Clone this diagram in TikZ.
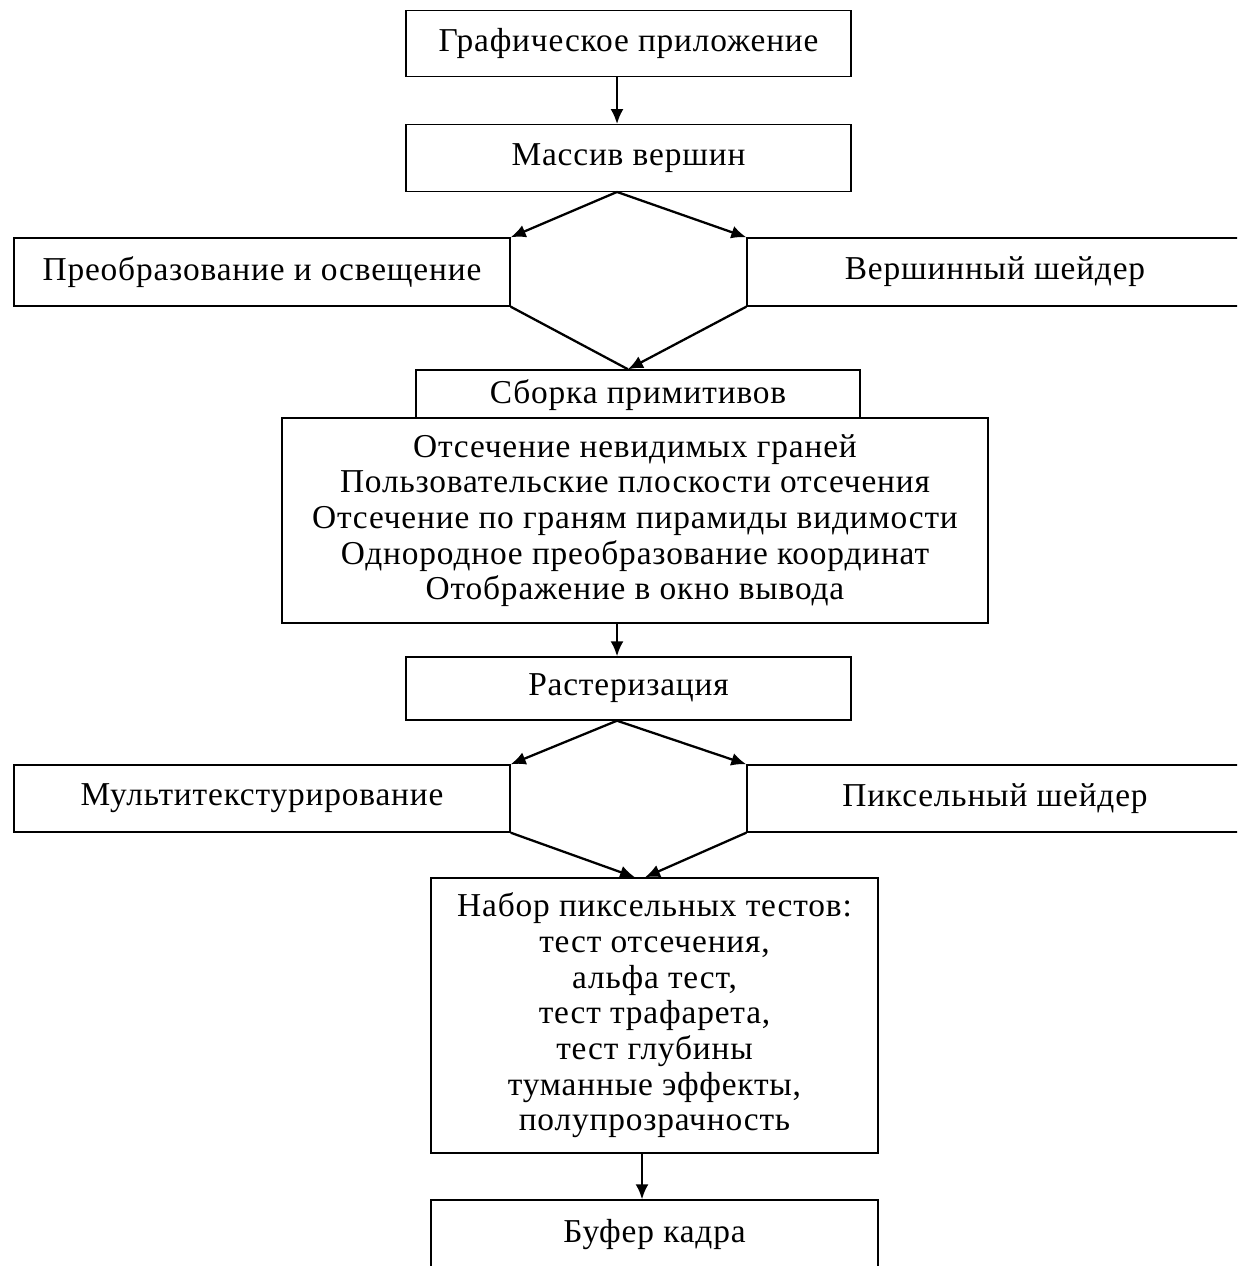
\documentclass[tikz,border=0pt]{standalone}
\usepackage{fontspec}
\setmainfont[LetterSpace=2.5]{Liberation Serif}
\usetikzlibrary{arrows.meta, positioning}
\tikzstyle{block} = [rectangle, draw, line width=0.8pt, fill=white,
    align=center, inner sep=0pt, minimum width=8.9cm, minimum height=1.33cm]
\tikzstyle{side} = [block, minimum width=9.92cm, minimum height=1.36cm]
\tikzstyle{line} = [draw, line width=1.3pt, -{Latex[length=3mm, width=2.6mm]}]
\tikzstyle{plain} = [draw, line width=1.3pt]

\begin{document}
\begin{tikzpicture}[node distance = 2cm, auto, font=\fontsize{19}{20.3}\selectfont]
            \clip (0,0) rectangle (24.74,-25.32);
            \fill [white] (0,0) rectangle (24.74,-25.32);
            % Place nodes
            \node [block] (app) at (12.57,-0.87) {Графическое приложение};
            \node [block, below of=app, node distance=2.29cm] (verts) {Массив вершин};
            \node [side] (tl) at (5.24,-5.44) {Преобразование и освещение};
            \node [side] (vsh) at (19.9,-5.44) {Вершинный шейдер};
            \node [block, minimum width=8.88cm, minimum height=1cm] (asm) at (12.76,-7.9) {Сборка примитивов};
            \node [block, minimum width=14.12cm, minimum height=4.1cm] (clipping) at (12.7,-10.41)
                {Отсечение невидимых граней\\Пользовательские плоскости отсечения\\
                 Отсечение по граням пирамиды видимости\\Однородное преобразование координат\\
                 Отображение в окно вывода};
            \node [block, minimum height=1.26cm] (raster) at (12.57,-13.77) {Растеризация};
            \node [side, minimum height=1.34cm] (mtex) at (5.24,-15.97) {Мультитекстурирование};
            \node [side, minimum height=1.34cm] (psh) at (19.9,-15.97) {Пиксельный шейдер};
            \node [block, minimum width=8.94cm, minimum height=5.5cm] (tests) at (13.09,-20.31)
                {Набор пиксельных тестов:\\тест отсечения,\\альфа тест,\\тест трафарета,\\
                 тест глубины\\туманные эффекты,\\полупрозрачность};
            \node [block, minimum width=8.94cm, minimum height=1.4cm] (frame) at (13.09,-24.7) {Буфер кадра};
            % Draw edges
            \path [line] ([xshift=-0.23cm]app.south) -- ([xshift=-0.23cm]verts.north);
            \path [line] ([xshift=-0.23cm]verts.south) -- (tl.north east);
            \path [line] ([xshift=-0.23cm]verts.south) -- (vsh.north west);
            \path [plain] (tl.south east) -- ([xshift=-0.2cm]asm.north);
            \path [line] (vsh.south west) -- ([xshift=-0.2cm]asm.north);
            \path [line] ([xshift=-0.23cm]raster.north |- clipping.south) -- ([xshift=-0.23cm]raster.north);
            \path [line] ([xshift=-0.23cm]raster.south) -- (mtex.north east);
            \path [line] ([xshift=-0.23cm]raster.south) -- (psh.north west);
            \path [line] (mtex.south east) -- ([xshift=-0.39cm]tests.north);
            \path [line] (psh.south west) -- ([xshift=-0.19cm]tests.north);
            \path [line] ([xshift=-0.25cm]tests.south) -- ([xshift=-0.25cm]frame.north);
        \end{tikzpicture}
\end{document}
